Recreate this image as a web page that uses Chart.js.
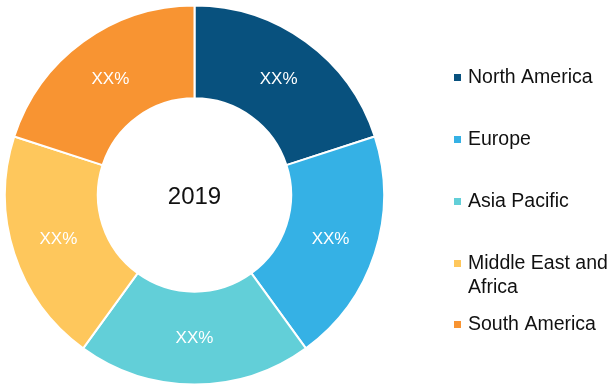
<!DOCTYPE html>
<html>
<head>
<meta charset="utf-8">
<script src="https://cdn.jsdelivr.net/npm/chart.js@4/dist/chart.umd.min.js"></script>
<style>
  html, body { margin: 0; padding: 0; background: #fff; }
  #wrap { width: 613px; height: 390px; }
</style>
</head>
<body>
<div id="wrap"><canvas id="region-chart" width="613" height="390"></canvas></div>
<script>
// regions and their share (all shown as XX%)
let regions = ["North America", "Europe", "Asia Pacific", "Middle East and Africa", "South America"];
let legendLines = [["North America"], ["Europe"], ["Asia Pacific"], ["Middle East and", "Africa"], ["South America"]];
let shares = [20, 20, 20, 20, 20];
let shareLabels = ["XX%", "XX%", "XX%", "XX%", "XX%"];
let colors = ["#08517e", "#35b1e5", "#62cfd8", "#fec75c", "#f89432"];
let centerText = "2019";

// legend rows (text baseline centres)
let legendY = [77, 139, 201, 263, 324];

// draws the XX% labels, centre year and the legend
let extras = {
  id: "extras",
  afterDatasetsDraw(chart) {
    let ctx = chart.ctx;
    let meta = chart.getDatasetMeta(0);
    ctx.save();
    ctx.textAlign = "center";
    ctx.textBaseline = "middle";
    ctx.fillStyle = "#ffffff";
    ctx.font = "17px 'Liberation Sans', Arial, sans-serif";
    meta.data.forEach(function (arc, i) {
      let p = arc.tooltipPosition();
      ctx.fillText(shareLabels[i], p.x, p.y);
    });

    let first = meta.data[0];
    ctx.fillStyle = "#111111";
    ctx.font = "24px 'Liberation Sans', Arial, sans-serif";
    ctx.fillText(centerText, first.x, first.y + 2);

    // legend
    ctx.textAlign = "left";
    ctx.font = "19.5px 'Liberation Sans', Arial, sans-serif";
    legendLines.forEach(function (lines, i) {
      let y = legendY[i];
      ctx.fillStyle = colors[i];
      ctx.fillRect(454, y - 3, 7, 7);
      ctx.fillStyle = "#111111";
      lines.forEach(function (t, j) {
        ctx.fillText(t, 468, y + 1 + j * 24);
      });
    });
    ctx.restore();
  },
};

let chart = new Chart(document.getElementById("region-chart"), {
  type: "doughnut",
  data: {
    labels: regions,
    datasets: [
      {
        data: shares,
        backgroundColor: colors,
        borderColor: "#ffffff",
        borderWidth: 2,
      },
    ],
  },
  options: {
    responsive: false,
    animation: false,
    cutout: "51%",
    layout: { padding: { left: 4, top: 4, bottom: 4, right: 228 } },
    plugins: {
      legend: { display: false },
      tooltip: { enabled: false },
    },
  },
  plugins: [extras],
});
</script>
</body>
</html>
